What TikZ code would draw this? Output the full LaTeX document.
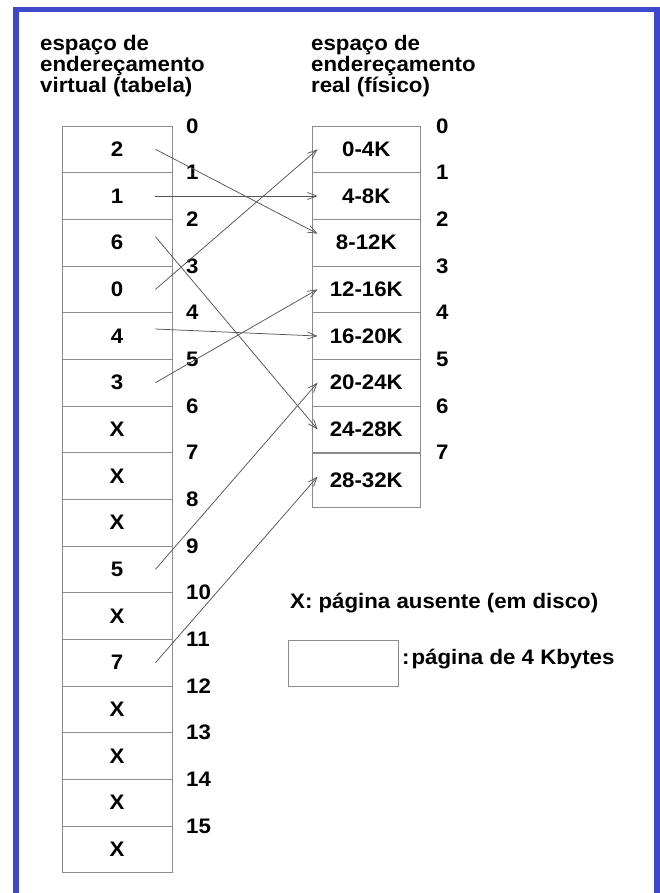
\documentclass[tikz,border=0pt]{standalone}
\usepackage{fontspec}
\setmainfont{Liberation Sans}[FakeStretch=1.06]
\usetikzlibrary{arrows.meta}
\definecolor{vmblue}{RGB}{62,72,202}
\definecolor{vmgrid}{RGB}{140,140,140}
\definecolor{vmline}{RGB}{85,85,85}
\newcommand{\vmfont}{\linespread{1}\fontsize{21}{21}\selectfont\bfseries}
\tikzset{
    vm/chart/.style={x=1pt, y=-1pt, font=\vmfont, every node/.style={inner sep=0pt}},
    vm/page/.style={rectangle, draw=vmgrid, line width=0.9pt, minimum width=110pt, minimum height=46.67pt},
    vm/frame/.style={vm/page, minimum width=108.7pt},
    vm/index/.style={anchor=west},
    vm/header/.style={anchor=north west, align=left},
    vm/arrow/.style={-{Straight Barb[length=9pt,width=7pt]}, line width=0.75pt, draw=vmline},
    vm/border/.style={draw=vmblue, line width=5.5pt}
}

\begin{document}
\begin{tikzpicture}[vm/chart]
    \useasboundingbox (0,0) rectangle (660,893);
    \draw[vm/border] (16,893) -- (16,9.5) -- (657,9.5) -- (657,893);
    \node[vm/header] (vhead) at (40,35) {espaço de\\endereçamento\\virtual (tabela)};
    \node[vm/header] (rhead) at (311,35) {espaço de\\endereçamento\\real (físico)};
    % virtual pages and their numbers
    \foreach \val [count=\i from 0] in {2,1,6,0,4,3,X,X,X,5,X,7,X,X,X,X}
        \node[vm/page] (v\i) at (117,149.33+46.67*\i) {\val};
    \foreach \i in {0,...,15}
        \node[vm/index] (vi\i) at (186,126+46.67*\i) {\i};
    % physical frames and their numbers
    \foreach \val [count=\i from 0] in {0-4K,4-8K,8-12K,12-16K,16-20K,20-24K,24-28K}
        \node[vm/frame] (p\i) at (366.3,149.33+46.67*\i) {\val};
    \node[vm/frame, minimum height=53.7pt] (p7) at (366.3,480.2) {28-32K};
    \foreach \i in {0,...,7}
        \node[vm/index] (pi\i) at (436,126+46.67*\i) {\i};
    % legend
    \node[anchor=base west] (absent) at (290,608.5) {X: página ausente (em disco)};
    \node[vm/page] (sample) at (343.85,663.35) {};
    \node[anchor=base west] (sizenote) at (402,664) {:\kern2pt página de 4 Kbytes};
    % mapping
    \foreach \source/\target in {v1/p1,v3/p0,v5/p3,v9/p5}
        \draw[vm/arrow] ([xshift=-17pt]\source.east) -- ([xshift=6pt]\target.west);
    \draw[vm/arrow] ([xshift=-17pt]v0.east) -- ([xshift=6pt,yshift=9pt]p2.west);
    \draw[vm/arrow] ([xshift=-17pt,yshift=6pt]v2.east) -- ([xshift=6pt]p6.west);
    \draw[vm/arrow] ([xshift=-17pt,yshift=7pt]v4.east) -- ([xshift=6pt]p4.west);
    \draw[vm/arrow] ([xshift=-17pt]v11.east) -- ([xshift=6pt,yshift=3.5pt]p7.west);
\end{tikzpicture}
\end{document}
